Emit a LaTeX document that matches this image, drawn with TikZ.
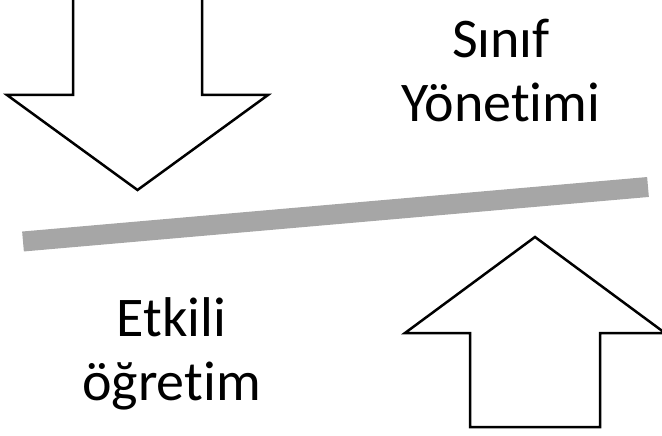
\documentclass[tikz,border=0pt]{standalone}
\usepackage{fontspec}
\setmainfont{Carlito}[Ligatures=CommonOff]
\usepackage{tikz}
\usetikzlibrary{positioning}

\begin{document}
\begin{tikzpicture}[
      x=1pt, y=-1pt,
      bigarrow/.style={draw=black, line width=2.5pt, fill=white, line join=miter},
      bar/.style={draw=bargray, line width=20pt, line cap=butt},
      label/.style={inner sep=0pt, anchor=base, font=\fontsize{56}{64}\selectfont}
    ]
        \definecolor{bargray}{HTML}{A6A6A6}
        \useasboundingbox (0,0) rectangle (662,436);
        % down arrow
        \draw[bigarrow] (73,-2) -- (202,-2) -- (202,95) -- (268,95) -- (137.5,190)
              -- (7,95) -- (73,95) -- cycle;
        % up arrow
        \draw[bigarrow] (535,237) -- (665,333) -- (600,333) -- (600,427)
              -- (470,427) -- (470,333) -- (405,333) -- cycle;
        % balance bar
        \coordinate (barL) at (23,241.5);
        \coordinate (barR) at (648,187);
        \draw[bar] (barL) -- (barR);
        \node[label] (sinif) at (501,57.5) {Sınıf};
        \node[label] (yonetim) at (501,121.5) {Yönetimi};
        \node[label] (etkili) at (171.5,336.5) {Etkili};
        \node[label] (ogretim) at (171.5,400.5) {öğretim};
    \end{tikzpicture}
\end{document}
